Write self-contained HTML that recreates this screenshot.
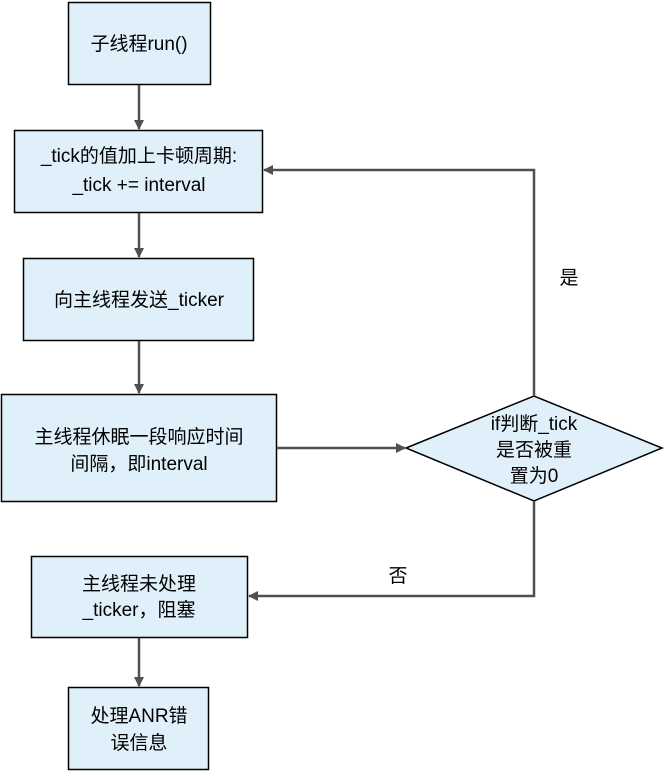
<!DOCTYPE html>
<html><head><meta charset="utf-8"><style>
html,body{margin:0;padding:0;background:#fff}
svg text{font-family:"Liberation Sans","Noto Sans CJK SC",sans-serif;font-size:19px;fill:#000}
</style></head><body>
<svg width="665" height="771" viewBox="0 0 665 771" xmlns="http://www.w3.org/2000/svg">
<defs><marker id="a" markerWidth="10" markerHeight="10" refX="9" refY="5" orient="auto" markerUnits="userSpaceOnUse"><path d="M0,0 L10,5 L0,10 z" fill="#505050"/></marker></defs>
<g fill="#dff0fa" stroke="#000" stroke-width="1.5">
<rect x="68.5" y="2.5" width="142" height="82"/>
<rect x="14.5" y="130.5" width="248" height="82"/>
<rect x="23.5" y="258.5" width="230" height="82"/>
<rect x="1.5" y="394.5" width="275" height="107"/>
<polygon points="406,448 534,396 662,448 534,501"/>
<rect x="31.5" y="556.5" width="216" height="81"/>
<rect x="68.5" y="687.5" width="140" height="82"/>
</g>
<g stroke="#505050" stroke-width="2.5" fill="none" marker-end="url(#a)">
<line x1="139" y1="85" x2="139" y2="129"/>
<line x1="139" y1="213" x2="139" y2="257"/>
<line x1="139" y1="341" x2="139" y2="393"/>
<line x1="277" y1="448" x2="405" y2="448"/>
<polyline points="534,396 534,170 264,170"/>
<polyline points="534,501 534,596 249,596"/>
<line x1="139" y1="638" x2="139" y2="686"/>
</g>
<g text-anchor="middle">
<text x="139" y="50">子线程run()</text>
<text x="139" y="162">_tick的值加上卡顿周期:</text>
<text x="139" y="191">_tick += interval</text>
<text x="139" y="306">向主线程发送_ticker</text>
<text x="139" y="443">主线程休眠一段响应时间</text>
<text x="139" y="470">间隔，即interval</text>
<text x="534" y="430">if判断_tick</text>
<text x="534" y="456">是否被重</text>
<text x="534" y="482">置为0</text>
<text x="139" y="590">主线程未处理</text>
<text x="139" y="616">_ticker，阻塞</text>
<text x="139" y="722">处理ANR错</text>
<text x="139" y="749">误信息</text>
<text x="569" y="284">是</text>
<text x="398" y="582">否</text>
</g>
</svg>
</body></html>
